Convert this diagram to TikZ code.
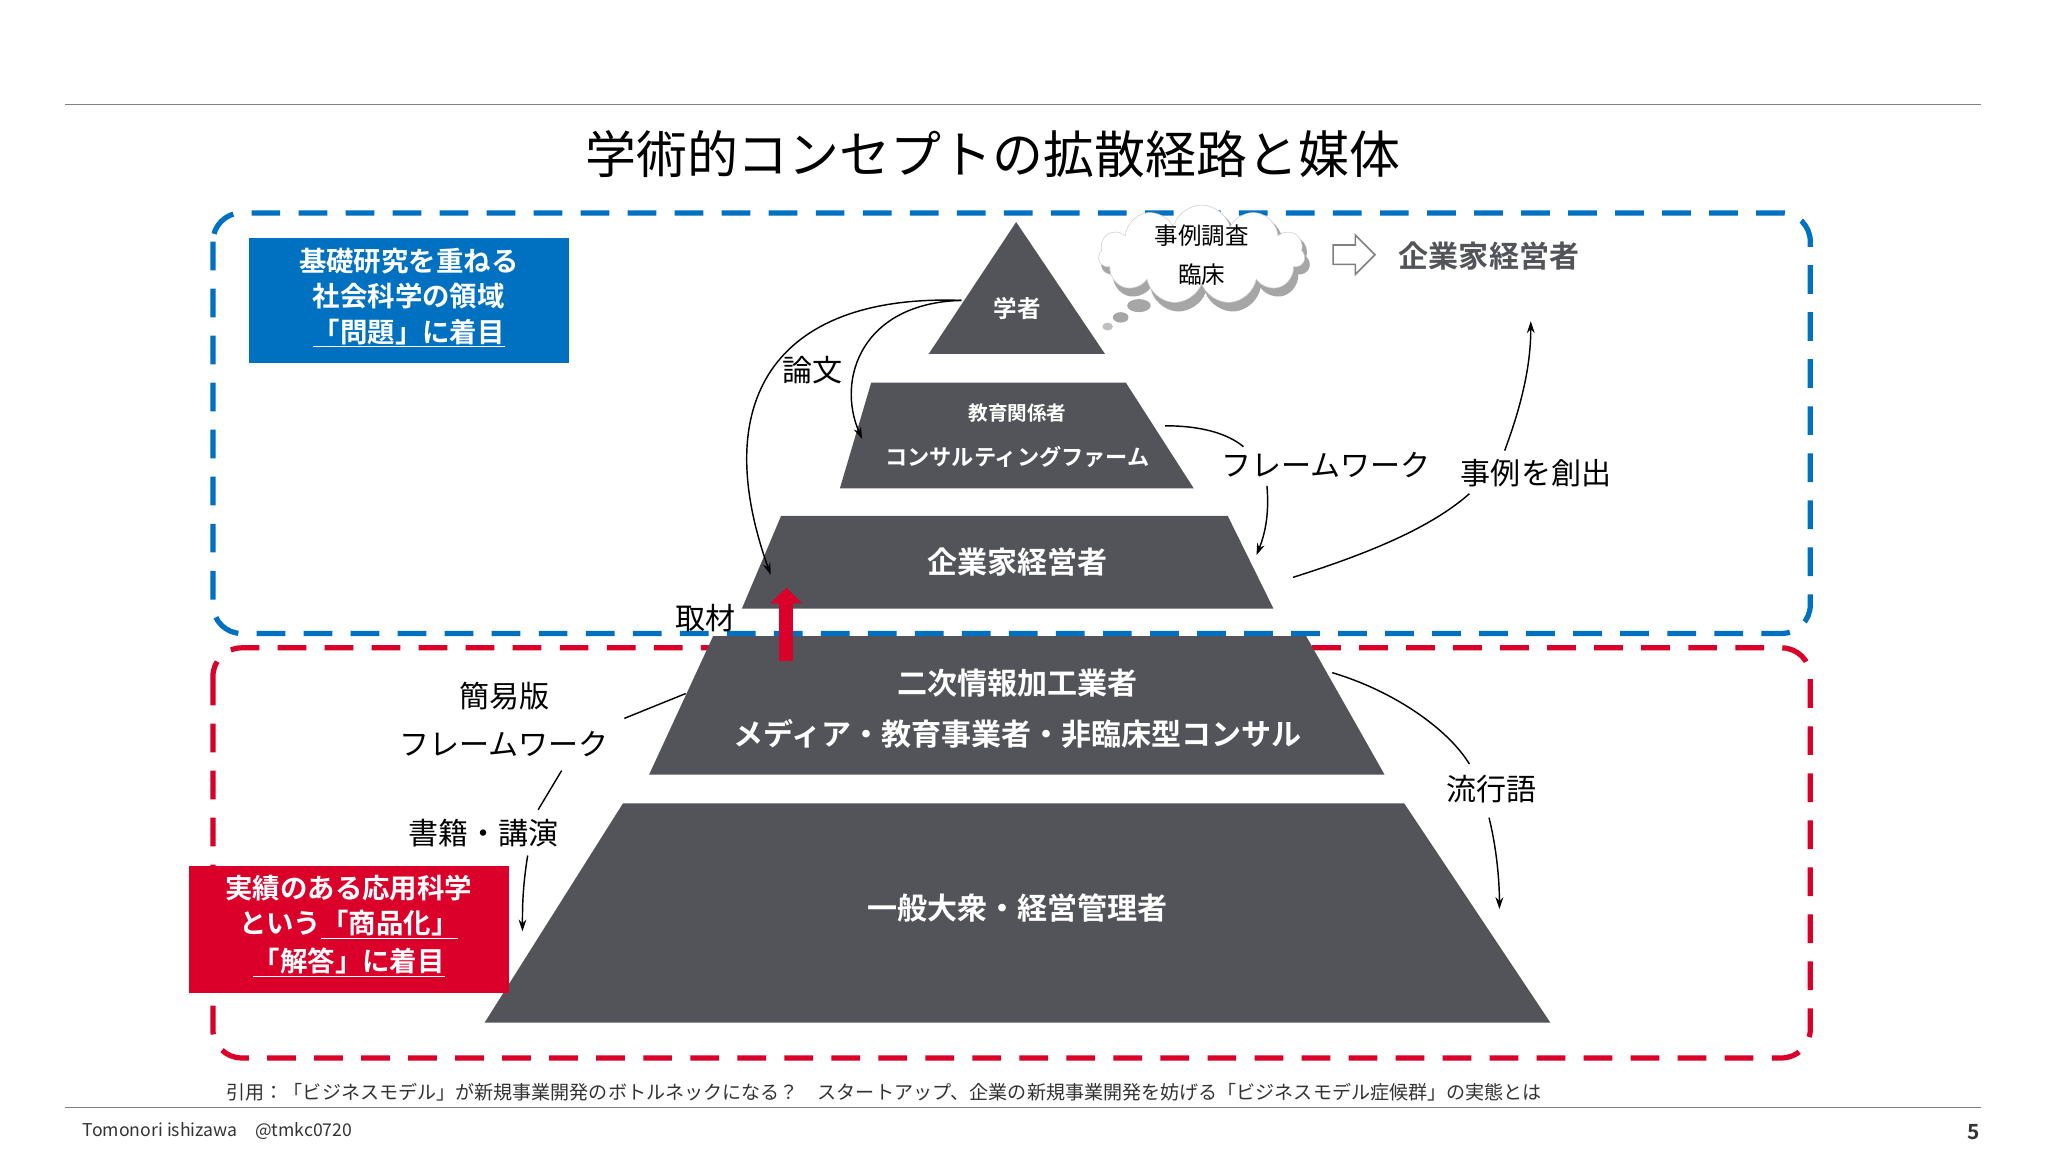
\documentclass[tikz,border=0pt]{standalone}
\usepackage{fontspec}
\setmainfont{Noto Sans CJK JP}
\newfontfamily\jpb{Noto Sans CJK JP Bold}
\usetikzlibrary{shapes.symbols,shapes.arrows,arrows.meta}
\definecolor{pyr}{RGB}{82,84,90}
\definecolor{bl}{RGB}{0,112,192}
\definecolor{rd}{RGB}{218,0,42}
\begin{document}
\begin{tikzpicture}[x=1pt,y=-1pt,
  lab/.style={font=\fontsize{23}{24}\selectfont},
  wt/.style={text=white,font=\jpb\fontsize{#1}{#1}\selectfont},
  arr/.style={-{Stealth[length=9pt,width=6pt]},line width=1.1pt},
  ln/.style={line width=1.1pt}]
\useasboundingbox[fill=white] (0,0) rectangle (1568,882);
\draw[gray,line width=0.8pt] (50,80) -- (1517,80);
\draw[gray,line width=0.8pt] (50,848) -- (1517,848);
\node (title) at (760,118) {\fontsize{39}{40}\selectfont 学術的コンセプトの拡散経路と媒体};
% dashed frames
\draw[bl,line width=4pt,dash pattern=on 22pt off 14pt,rounded corners=22pt] (163,163) rectangle (1386,485);
\draw[rd,line width=4pt,dash pattern=on 22pt off 14pt,rounded corners=22pt] (163,496) rectangle (1386,810);
% pyramid
\fill[pyr] (778,170) -- (846,271) -- (711,271) -- cycle;
\fill[pyr] (667,293) -- (862,293) -- (914,374) -- (643,374) -- cycle;
\fill[pyr] (598,395) -- (940,395) -- (975,466) -- (568,466) -- cycle;
\fill[pyr] (546,487) -- (1000,487) -- (1060,593) -- (497,593) -- cycle;
\fill[pyr] (477,615) -- (1075,615) -- (1187,783) -- (371,783) -- cycle;
\node[wt=18] (gak) at (779,236) {学者};
\node[wt=15] (kyo) at (779,316) {教育関係者};
\node[wt=17] (con) at (779,350) {コンサルティングファーム};
\node[wt=23] (kig) at (779,430) {企業家経営者};
\node[wt=23] (niji) at (779,523) {二次情報加工業者};
\node[wt=23] (med) at (779,562) {メディア・教育事業者・非臨床型コンサル};
\node[wt=23] (ipp) at (779,695) {一般大衆・経営管理者};
% boxes
\fill[bl] (191,182) rectangle (436,278);
\node[wt=21,align=center] (bbox) at (313,228) {基礎研究を重ねる\\[6pt]社会科学の領域\\[6pt]\underline{「問題」に着目}};
\fill[rd] (145,663) rectangle (390,760);
\node[wt=21,align=center] (rbox) at (267,709) {実績のある応用科学\\[6pt]という\underline{「商品化」}\\[6pt]\underline{「解答」に着目}};
% cloud
\node[cloud,cloud puffs=11,aspect=1.9,fill=gray!70,minimum width=160pt,minimum height=80pt] at (923,200) {};
\node[cloud,cloud puffs=11,aspect=1.9,fill=white,draw=gray!40,minimum width=158pt,minimum height=76pt] (cl) at (920,195) {};
\node[font=\fontsize{18}{20}\selectfont,align=center] at (920,195) {事例調査\\[10pt]臨床};
\fill[gray!70] (872,234) ellipse (9pt and 5pt);
\fill[gray!70] (858,243) ellipse (6pt and 4pt);
\fill[gray!50] (848,250) ellipse (4pt and 3pt);
\node[single arrow,draw=gray,line width=1.2pt,fill=white,minimum height=32pt,minimum width=30pt,single arrow head extend=4pt] (ha) at (1033,195) {};
\node[font=\jpb\fontsize{23}{24}\selectfont,text=pyr] (kig2) at (1140,196) {企業家経営者};
% labels
\node[lab] (ronbun) at (622,283) {論文};
\node[lab] (fw1) at (1015,356) {フレームワーク};
\node[lab] (jirei) at (1176,362) {事例を創出};
\node[lab] (shuzai) at (540,473) {取材};
\node[lab] (kani) at (386,533) {簡易版};
\node[lab] (fw2) at (386,570) {フレームワーク};
\node[lab] (shoseki) at (370,638) {書籍・講演};
\node[lab] (ryuko) at (1142,604) {流行語};
\coordinate (g1) at (736,230);
\coordinate (r1) at (660,336);
\coordinate (r2) at (590,440);
\draw[arr] (g1) .. controls (660,232) and (640,290) .. (r1);
\draw[arr] (g1) .. controls (600,225) and (540,300) .. (r2);
\draw[ln] (892,326) .. controls (920,326) and (940,332) .. (952,342);
\draw[arr] (970,372) .. controls (972,395) and (968,410) .. (962,425);
\draw[ln] (990,442) .. controls (1060,420) and (1100,400) .. (1125,378);
\draw[arr] (1152,345) .. controls (1165,310) and (1172,280) .. (1172,246);
\draw[-{Triangle[length=12pt,width=24pt]},rd,line width=11pt] (602,506) -- (602,450);
\draw[ln] (525,531) -- (478,550);
\draw[ln] (430,590) -- (412,620);
\draw[arr] (404,655) .. controls (400,680) and (400,695) .. (400,713);
\draw[ln] (1020,515) .. controls (1070,530) and (1110,560) .. (1125,585);
\draw[arr] (1140,626) .. controls (1146,650) and (1148,675) .. (1148,696);
% footer
\node[anchor=west,font=\fontsize{14.6}{16}\selectfont,text=black!80] (cite) at (170,836) {引用：「ビジネスモデル」が新規事業開発のボトルネックになる？　スタートアップ、企業の新規事業開発を妨げる「ビジネスモデル症候群」の実態とは};
\node[anchor=west,font=\fontsize{13.5}{15}\selectfont,text=black!80] (auth) at (60,866) {Tomonori ishizawa\quad @tmkc0720};
\node[font=\jpb\fontsize{16}{16}\selectfont,text=black!80] (pg) at (1511,867) {5};
\end{tikzpicture}
\end{document}
